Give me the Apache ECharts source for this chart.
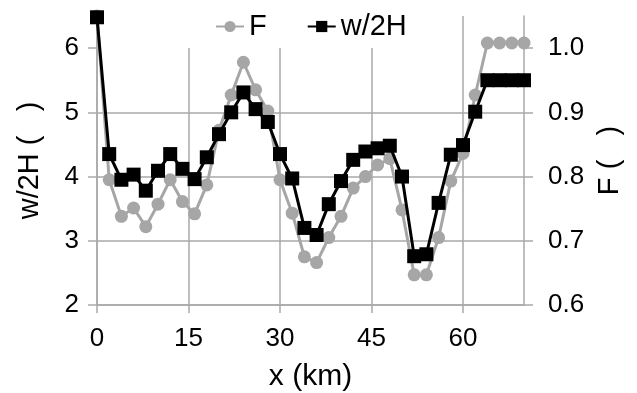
<!DOCTYPE html>
<html>
<head>
<meta charset="utf-8">
<script src="https://cdn.jsdelivr.net/npm/echarts@6/dist/echarts.min.js"></script>
<style>
  html, body { margin: 0; padding: 0; background: #fff; }
  #chart { width: 637px; height: 393px; }
</style>
</head>
<body>
<div id="chart"></div>
<script>
// Distance along the channel (km)
const xKm = [0, 2, 4, 6, 8, 10, 12, 14, 16, 18, 20, 22, 24, 26, 28, 30, 32, 34,
             36, 38, 40, 42, 44, 46, 48, 50, 52, 54, 56, 58, 60, 62, 64, 66, 68, 70];

// Width-to-depth ratio w/2H (left axis)
const w2H = [6.48, 4.35, 3.95, 4.03, 3.78, 4.09, 4.35, 4.12, 3.96, 4.30, 4.66, 5.00,
             5.31, 5.05, 4.85, 4.35, 3.97, 3.20, 3.09, 3.57, 3.93, 4.26, 4.39, 4.44,
             4.48, 4.00, 2.76, 2.79, 3.59, 4.34, 4.49, 5.01, 5.50, 5.50, 5.50, 5.50];

// F (right axis)
const fVals = [1.05, 0.795, 0.738, 0.751, 0.722, 0.757, 0.795, 0.761, 0.742, 0.787, 0.872, 0.927,
               0.978, 0.935, 0.902, 0.795, 0.743, 0.675, 0.666, 0.705, 0.738, 0.782, 0.800, 0.818,
               0.828, 0.748, 0.647, 0.647, 0.705, 0.793, 0.836, 0.927, 1.008, 1.008, 1.008, 1.008];

// Tick labels
const xTicks = [0, 15, 30, 45, 60];
const leftTicks = [2, 3, 4, 5, 6];
const rightTicks = [0.6, 0.7, 0.8, 0.9, 1.0];

const FONT = 'Liberation Sans, Arial, sans-serif';
const GRID_GRAY = '#a9a9a9';
const TEXT = '#000';

const chart = echarts.init(document.getElementById('chart'), null, { renderer: 'canvas' });

const lineStyleAxis = { color: GRID_GRAY, width: 1.5 };

chart.setOption({
  animation: false,
  backgroundColor: '#fff',
  textStyle: { fontFamily: FONT },
  grid: {
    left: 97, right: 113, top: 16, bottom: 88,
    containLabel: false,
    outerBoundsMode: 'none'
  },
  legend: {
    left: 180,
    top: 0,
    padding: [12, 10, 7, 35],
    backgroundColor: '#fff',
    itemWidth: 28,
    itemHeight: 14,
    itemGap: 40,
    z: 10,
    textStyle: { fontFamily: FONT, fontSize: 29, color: TEXT },
    data: ['F', 'w/2H']
  },
  xAxis: {
    type: 'value',
    min: 0,
    max: 70,
    interval: 15,
    name: 'x (km)',
    nameLocation: 'middle',
    nameGap: 57,
    nameTextStyle: { fontFamily: FONT, fontSize: 30, color: TEXT },
    axisLine: { show: true, lineStyle: lineStyleAxis },
    axisTick: { show: true, length: 8, lineStyle: lineStyleAxis, customValues: xTicks },
    axisLabel: { fontFamily: FONT, fontSize: 26, color: TEXT, margin: 21, customValues: xTicks },
    splitLine: { show: true, lineStyle: lineStyleAxis }
  },
  yAxis: [
    {
      type: 'value',
      position: 'left',
      min: 2,
      max: 6.5,
      interval: 1,
      name: 'w/2H (   )',
      nameLocation: 'middle',
      nameRotate: 90,
      nameGap: 53,
      nameTextStyle: { fontFamily: FONT, fontSize: 29, color: TEXT },
      axisLine: { show: true, lineStyle: lineStyleAxis },
      axisTick: { show: true, length: 9, lineStyle: lineStyleAxis, customValues: leftTicks },
      axisLabel: { fontFamily: FONT, fontSize: 26, color: TEXT, margin: 18, customValues: leftTicks },
      splitLine: { show: true, showMaxLine: false, lineStyle: lineStyleAxis }
    },
    {
      type: 'value',
      position: 'right',
      min: 0.6,
      max: 1.05,
      interval: 0.1,
      name: 'F (   )',
      nameLocation: 'middle',
      nameRotate: 90,
      nameGap: 64,
      nameTextStyle: { fontFamily: FONT, fontSize: 29, color: TEXT },
      axisLine: { show: true, lineStyle: lineStyleAxis },
      axisTick: { show: true, length: 9, lineStyle: lineStyleAxis, customValues: rightTicks },
      axisLabel: {
        fontFamily: FONT, fontSize: 26, color: TEXT, margin: 24,
        customValues: rightTicks,
        formatter: v => v.toFixed(1)
      },
      splitLine: { show: false }
    }
  ],
  series: [
    {
      name: 'F',
      type: 'line',
      yAxisIndex: 1,
      data: xKm.map((x, i) => [x, fVals[i]]),
      symbol: 'circle',
      symbolSize: 13,
      showAllSymbol: true,
      itemStyle: { color: '#a6a6a6' },
      lineStyle: { color: '#a6a6a6', width: 3 },
      z: 2
    },
    {
      name: 'w/2H',
      type: 'line',
      yAxisIndex: 0,
      data: xKm.map((x, i) => [x, w2H[i]]),
      symbol: 'rect',
      symbolSize: 14,
      showAllSymbol: true,
      itemStyle: { color: '#000' },
      lineStyle: { color: '#000', width: 3 },
      z: 3
    }
  ]
});
</script>
</body>
</html>
